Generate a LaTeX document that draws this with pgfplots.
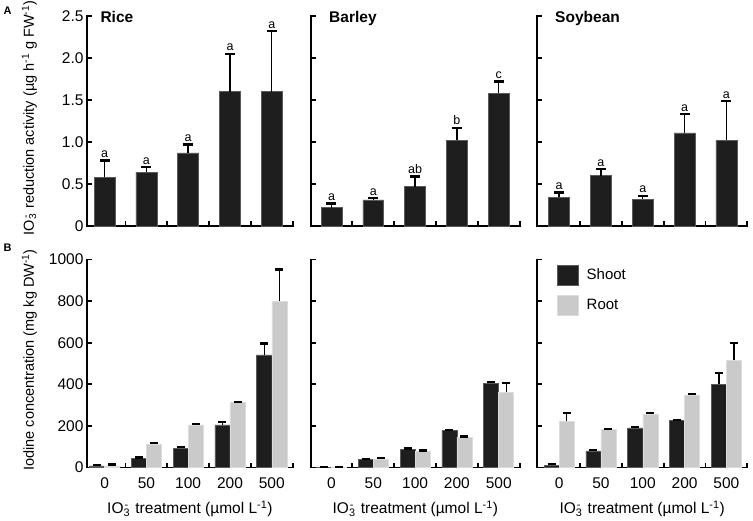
\documentclass[border=0pt]{standalone}
\usepackage{fontspec}
\setmainfont{Liberation Sans}
\usepackage{pgfplots}
\usepackage{pgfplotstable}
\pgfplotsset{compat=1.18}

\definecolor{dk}{HTML}{1E1E1E}
\definecolor{dkedge}{HTML}{5A5A5A}
\definecolor{lt}{HTML}{CACACA}
\definecolor{ltedge}{HTML}{DCDCDC}

\newcommand{\lab}{\fontsize{15.5}{18}\selectfont}
\newcommand{\ylab}{\fontsize{14.5}{17}\selectfont}
\newcommand{\letf}{\fontsize{12.5}{14}\selectfont}
\newcommand{\ion}{IO\textsubscript{3}\kern-0.36em\textsuperscript{-}\kern0.16em}

% Top row: IO3- reduction activity (mean, SE, letter)
\pgfplotstableread{
x y e lab
0 0.58 0.20 a
1 0.64 0.06 a
2 0.87 0.10 a
3 1.60 0.45 a
4 1.60 0.72 a
}\riceA
\pgfplotstableread{
x y e lab
0 0.22 0.05 a
1 0.31 0.02 a
2 0.47 0.12 ab
3 1.02 0.15 b
4 1.58 0.14 c
}\barleyA
\pgfplotstableread{
x y e lab
0 0.34 0.06 a
1 0.60 0.08 a
2 0.32 0.04 a
3 1.11 0.22 a
4 1.02 0.47 a
}\soyA

% Bottom row: iodine concentration (shoot, root)
\pgfplotstableread{
x s es r er
0 8 3 8 6
1 43 5 112 5
2 93 5 205 5
3 205 13 312 3
4 542 55 800 152
}\riceB
\pgfplotstableread{
x s es r er
0 1 1 1 1
1 38 4 42 3
2 88 3 78 4
3 178 3 146 3
4 406 5 362 44
}\barleyB
\pgfplotstableread{
x s es r er
0 11 5 222 40
1 80 3 183 3
2 191 4 258 4
3 226 3 349 3
4 400 55 516 83
}\soyB

\pgfplotsset{
  panel/.style={
    scale only axis,
    axis x line*=bottom, axis y line*=left,
    axis line style={line width=1.8pt, line cap=rect},
    xmax=4.5,
    tick align=inside,
    major tick length=5pt, minor tick length=5pt,
    tick style={line width=1.8pt, black},
    xtick={0,1,2,3,4},
    minor xtick={0.5,1.5,2.5,3.5,4.5},
    major x tick style={draw=none},
    ticklabel style={font=\lab},
    /pgf/number format/assume math mode=true,
    clip=false,
  },
  toprow/.style={panel, height=210pt, ymin=0, ymax=2.5,
    ytick={0,0.5,1,1.5,2,2.5}, xticklabels={}, yticklabels={}},
  botrow/.style={panel, height=208pt, ymin=0, ymax=1000,
    ytick={0,200,400,600,800,1000}, xticklabels={0,50,100,200,500}, yticklabels={},
    xticklabel style={yshift=-7pt},
    xlabel={\ion\ treatment (µmol L\textsuperscript{-1})},
    xlabel style={at={(axis description cs:0.5,0)}, anchor=base, yshift=-46pt, font=\lab}},
  errs/.style={error bars/y dir=plus, error bars/y explicit,
    error bars/error bar style={line width=1.4pt, black},
    error bars/error mark options={rotate=90, line width=2.4pt, mark size=#1, black}},
  dkbar/.style={ybar, bar width=#1, bar shift=0pt, fill=dk, draw=dkedge, line width=0.5pt},
  ltbar/.style={ybar, bar width=#1, bar shift=0pt, fill=lt, draw=ltedge, line width=0.5pt},
  letters/.style={draw=none, mark=none, nodes near coords, point meta=explicit symbolic,
    nodes near coords style={font=\letf, anchor=south, inner sep=2.5pt, black}},
  sqlegend/.style={legend image code/.code={\draw[##1] (0pt,-10pt) rectangle (21pt,10pt);}},
}

\begin{document}
\begin{tikzpicture}[x=1pt,y=1pt]
\path[use as bounding box] (0,0) rectangle (753,520);

% ---------- Row A ----------
\begin{axis}[toprow, at={(87pt,294pt)}, anchor=south west, xmin=-0.42, width=205.7pt,
  yticklabels={0,0.5,1.0,1.5,2.0,2.5}]
\addplot[dkbar=0.5, errs=5pt] table[x=x, y=y, y error=e] \riceA;
\addplot[letters] table[x=x, y expr=\thisrow{y}+\thisrow{e}, meta=lab] \riceA;
\end{axis}

\begin{axis}[toprow, at={(311pt,294pt)}, anchor=south west, xmin=-0.49, width=208.6pt]
\addplot[dkbar=0.5, errs=5pt] table[x=x, y=y, y error=e] \barleyA;
\addplot[letters] table[x=x, y expr=\thisrow{y}+\thisrow{e}, meta=lab] \barleyA;
\end{axis}

\begin{axis}[toprow, at={(537pt,294pt)}, anchor=south west, xmin=-0.53, width=210.3pt]
\addplot[dkbar=0.5, errs=5pt] table[x=x, y=y, y error=e] \soyA;
\addplot[letters] table[x=x, y expr=\thisrow{y}+\thisrow{e}, meta=lab] \soyA;
\end{axis}

% ---------- Row B ----------
\begin{axis}[botrow, at={(87pt,52.5pt)}, anchor=south west, xmin=-0.42, width=205.7pt,
  yticklabels={0,200,400,600,800,1000}]
\addplot[dkbar=0.36, errs=4pt] table[x expr=\thisrow{x}-0.18, y=s, y error=es] \riceB;
\addplot[ltbar=0.36, errs=4pt] table[x expr=\thisrow{x}+0.18, y=r, y error=er] \riceB;
\end{axis}

\begin{axis}[botrow, at={(311pt,52.5pt)}, anchor=south west, xmin=-0.49, width=208.6pt]
\addplot[dkbar=0.36, errs=4pt] table[x expr=\thisrow{x}-0.18, y=s, y error=es] \barleyB;
\addplot[ltbar=0.36, errs=4pt] table[x expr=\thisrow{x}+0.18, y=r, y error=er] \barleyB;
\end{axis}

\begin{axis}[botrow, at={(537pt,52.5pt)}, anchor=south west, xmin=-0.53, width=210.3pt,
  legend style={at={(0.095,0.976)}, anchor=north west, draw=none, fill=none,
    inner sep=0pt, row sep=10pt, column sep=8pt, font=\fontsize{15}{18}\selectfont,
    nodes={inner sep=0pt}},
  legend cell align=left]
\addplot[dkbar=0.36, sqlegend, errs=4pt] table[x expr=\thisrow{x}-0.18, y=s, y error=es] \soyB;
\addlegendentry{Shoot}
\addplot[ltbar=0.36, sqlegend, errs=4pt] table[x expr=\thisrow{x}+0.18, y=r, y error=er] \soyB;
\addlegendentry{Root}
\end{axis}

% ---------- Text ----------
\node[anchor=base west, font=\fontsize{15.5}{18}\selectfont\bfseries] at (97,497.7) {Rice};
\node[anchor=base west, font=\fontsize{15.5}{18}\selectfont\bfseries] at (325.7,497.7) {Barley};
\node[anchor=base west, font=\fontsize{15.5}{18}\selectfont\bfseries] at (551.7,497.7) {Soybean};
\node[anchor=base west, font=\fontsize{11}{13}\selectfont\bfseries, inner sep=0pt] at (3.5,505) {A};
\node[anchor=base west, font=\fontsize{11}{13}\selectfont\bfseries, inner sep=0pt] at (3.5,268.3) {B};
\node[rotate=90, anchor=base, font=\ylab] at (34,402) {\ion\ reduction activity (µg h\textsuperscript{-1} g FW\textsuperscript{-1})};
\node[rotate=90, anchor=base, font=\ylab] at (34,160) {Iodine concentration (mg kg DW\textsuperscript{-1})};
\end{tikzpicture}
\end{document}
